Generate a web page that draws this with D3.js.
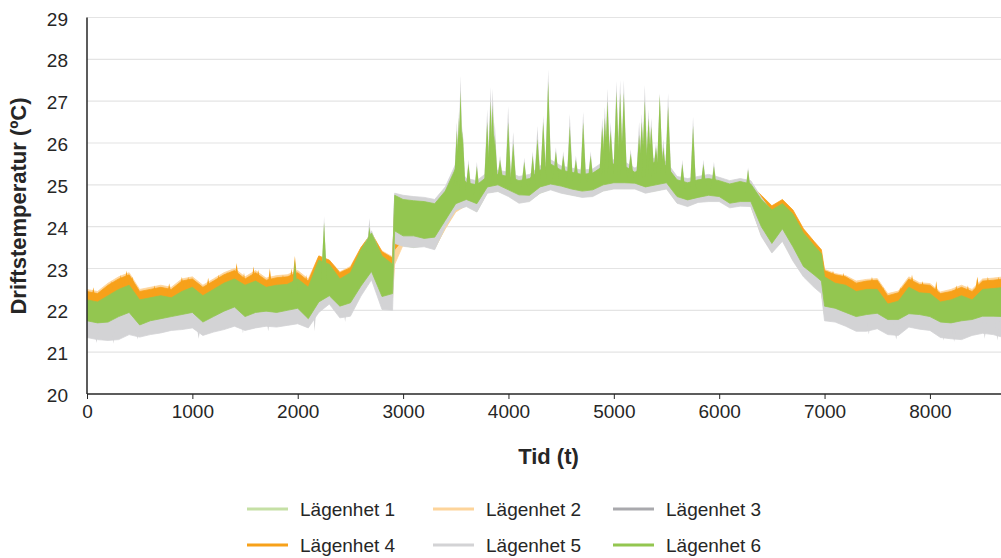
<!DOCTYPE html>
<html>
<head>
<meta charset="utf-8">
<script src="https://cdn.jsdelivr.net/npm/d3@7"></script>
<style>
  body { margin: 0; background: #fff; }
  text { font-family: "Liberation Sans", Arial, sans-serif; fill: #262626; }
</style>
</head>
<body>
<script>
// hourly envelope (low / high) of each series
var hours = [0,100,200,300,400,500,600,700,800,900,
  1000,1100,1200,1300,1400,1500,1600,1700,1800,1900,
  2000,2100,2200,2300,2400,2500,2600,2700,2800,2900,2920,
  3000,3100,3200,3300,3400,3500,3600,3700,3800,3900,
  4000,4100,4200,4300,4400,4500,4600,4700,4800,4900,
  5000,5100,5200,5300,5400,5500,5600,5700,5800,5900,
  6000,6100,6200,6300,6400,6500,6600,6700,6800,6900,6970,
  7000,7100,7200,7300,7400,7500,7600,7700,7800,7900,
  8000,8100,8200,8300,8400,8500,8600,8700,8760];

var seriesNames = ['Lägenhet 1', 'Lägenhet 2', 'Lägenhet 3', 'Lägenhet 4', 'Lägenhet 5', 'Lägenhet 6'];

var hi1 = [22.15,22.1,22.25,22.4,22.5,22.15,22.2,22.25,22.2,22.35,
  22.45,22.25,22.4,22.55,22.65,22.5,22.6,22.45,22.5,22.52,
  22.65,22.45,23.1,23.0,22.65,22.8,23.35,23.75,23.2,23.0,24.6,
  24.55,24.52,24.5,24.45,24.75,25.3,24.95,24.9,25.1,25.15,
  25.1,25.0,25.05,25.25,25.4,25.25,25.2,25.15,25.18,25.35,
  25.4,25.35,25.2,25.35,25.45,25.35,25.02,24.95,25.02,25.05,
  25.0,24.92,24.98,24.92,24.55,24.3,24.45,24.2,23.75,23.45,23.25,
  22.7,22.55,22.5,22.35,22.4,22.4,22.05,22.12,22.45,22.32,
  22.3,22.1,22.15,22.25,22.15,22.4,22.42,22.45,22.4];
var lo1 = [21.8,21.75,21.77,21.9,22.0,21.7,21.8,21.85,21.9,21.95,
  22.0,21.77,21.9,22.03,22.13,21.9,22.0,22.03,22.0,22.05,
  22.1,21.85,22.25,22.4,22.15,22.23,22.63,22.98,22.38,22.45,23.55,
  23.55,23.5,23.55,23.48,23.96,24.38,24.5,24.36,24.82,24.85,
  24.74,24.58,24.62,24.8,24.9,24.82,24.76,24.72,24.74,24.86,
  24.92,24.92,24.92,24.82,24.86,24.92,24.58,24.5,24.6,24.62,
  24.62,24.48,24.52,24.5,23.8,23.4,23.7,23.22,22.85,22.6,22.45,
  21.9,21.85,21.75,21.65,21.7,21.73,21.58,21.58,21.72,21.7,
  21.65,21.52,21.5,21.55,21.58,21.66,21.66,21.65,21.65];

var hi2 = [22.5,22.45,22.65,22.8,22.9,22.5,22.55,22.6,22.55,22.75,
  22.8,22.6,22.75,22.9,23.0,22.8,22.95,22.77,22.83,22.85,
  22.95,22.75,23.3,23.2,22.92,23.05,23.5,23.8,23.42,23.28,24.3,
  24.45,24.45,24.4,24.4,24.65,25.2,24.9,24.85,25.05,25.1,
  25.05,24.95,25.0,25.2,25.35,25.2,25.15,25.1,25.13,25.3,
  25.35,25.3,25.15,25.3,25.4,25.3,24.97,24.9,24.97,25.0,
  24.95,24.9,24.95,24.95,24.6,24.35,24.5,24.25,23.8,23.5,23.3,
  22.98,22.88,22.83,22.7,22.74,22.76,22.4,22.46,22.8,22.66,
  22.64,22.44,22.5,22.6,22.5,22.75,22.77,22.8,22.75];
var lo2 = [21.85,21.8,21.82,21.95,22.05,21.75,21.85,21.9,21.95,22.0,
  22.05,21.82,21.95,22.08,22.18,21.95,22.05,22.08,22.05,22.1,
  22.15,21.9,22.3,22.45,22.2,22.28,22.5,22.85,22.3,22.3,23.1,
  23.56,23.53,23.55,23.48,23.95,24.35,24.51,24.38,24.83,24.87,
  24.75,24.59,24.63,24.83,24.91,24.83,24.78,24.73,24.75,24.88,
  24.93,24.93,24.93,24.83,24.88,24.93,24.59,24.51,24.61,24.63,
  24.63,24.48,24.52,24.51,23.8,23.4,23.68,23.21,22.83,22.58,22.43,
  21.95,21.9,21.8,21.7,21.75,21.78,21.63,21.63,21.77,21.75,
  21.7,21.57,21.55,21.6,21.63,21.71,21.71,21.7,21.7];

var hi3 = [22.2,22.15,22.3,22.45,22.55,22.2,22.25,22.3,22.25,22.4,
  22.5,22.3,22.45,22.6,22.7,22.55,22.65,22.5,22.55,22.57,
  22.7,22.5,23.15,23.05,22.7,22.85,23.4,23.8,23.25,23.05,24.7,
  24.6,24.57,24.55,24.5,24.8,25.35,25.0,24.95,25.15,25.2,
  25.15,25.05,25.1,25.3,25.45,25.3,25.25,25.2,25.23,25.4,
  25.45,25.4,25.25,25.4,25.5,25.4,25.07,25.0,25.07,25.1,
  25.05,24.97,25.03,24.97,24.6,24.35,24.5,24.25,23.8,23.5,23.3,
  22.75,22.6,22.55,22.4,22.45,22.45,22.1,22.17,22.5,22.37,
  22.35,22.15,22.2,22.3,22.2,22.45,22.47,22.5,22.45];
var lo3 = [21.85,21.8,21.82,21.95,22.05,21.75,21.85,21.9,21.95,22.0,
  22.05,21.82,21.95,22.08,22.18,21.95,22.05,22.08,22.05,22.1,
  22.15,21.9,22.3,22.45,22.2,22.28,22.68,23.03,22.43,22.5,24.0,
  23.88,23.88,23.82,23.85,24.25,24.65,24.75,24.65,25.05,25.1,
  24.98,24.86,24.85,25.05,25.12,25.07,25.0,24.95,24.98,25.1,
  25.15,25.15,25.14,25.05,25.1,25.15,24.82,24.74,24.8,24.85,
  24.82,24.66,24.7,24.7,24.1,23.7,24.05,23.62,23.15,22.95,22.8,
  22.2,22.15,22.05,21.95,22.0,22.03,21.88,21.88,22.02,22.0,
  21.95,21.82,21.8,21.85,21.88,21.96,21.96,21.95,21.95];

var hi4 = [22.45,22.4,22.6,22.75,22.85,22.45,22.5,22.55,22.5,22.7,
  22.75,22.55,22.7,22.85,22.95,22.75,22.9,22.72,22.78,22.8,
  22.9,22.7,23.3,23.2,22.9,23.02,23.5,23.85,23.4,23.25,24.4,
  24.5,24.5,24.45,24.45,24.7,25.25,24.95,24.9,25.1,25.15,
  25.1,25.0,25.05,25.25,25.4,25.25,25.2,25.15,25.18,25.35,
  25.4,25.35,25.2,25.35,25.45,25.35,25.02,24.95,25.02,25.05,
  25.0,24.95,25.0,25.0,24.75,24.5,24.65,24.4,23.95,23.65,23.45,
  22.95,22.85,22.8,22.65,22.7,22.72,22.35,22.42,22.75,22.62,
  22.6,22.4,22.45,22.55,22.45,22.7,22.72,22.75,22.7];
var lo4 = [21.9,21.85,21.87,22.0,22.1,21.8,21.9,21.95,22.0,22.05,
  22.1,21.87,22.0,22.13,22.23,22.0,22.1,22.13,22.1,22.15,
  22.2,21.95,22.35,22.5,22.25,22.33,22.73,23.08,22.48,22.5,23.45,
  23.7,23.7,23.65,23.68,24.08,24.5,24.58,24.48,24.88,24.93,
  24.8,24.7,24.68,24.88,24.95,24.9,24.83,24.78,24.8,24.93,
  24.98,24.98,24.97,24.88,24.93,24.98,24.65,24.57,24.63,24.68,
  24.65,24.5,24.53,24.53,24.1,23.7,24.05,23.62,23.15,22.95,22.8,
  22.25,22.2,22.1,22.0,22.05,22.08,21.93,21.93,22.07,22.05,
  22.0,21.87,21.85,21.9,21.93,22.01,22.01,22.0,22.0];

var hi5 = [22.05,22.0,22.15,22.3,22.4,22.05,22.1,22.15,22.1,22.25,
  22.35,22.15,22.3,22.45,22.55,22.4,22.5,22.35,22.4,22.42,
  22.55,22.35,23.0,22.95,22.6,22.75,23.4,23.9,23.2,22.95,24.8,
  24.75,24.72,24.7,24.65,24.95,25.5,25.15,25.1,25.3,25.35,
  25.3,25.2,25.25,25.45,25.6,25.45,25.4,25.35,25.38,25.55,
  25.6,25.55,25.4,25.55,25.65,25.55,25.2,25.15,25.2,25.25,
  25.18,25.1,25.15,25.1,24.7,24.35,24.5,24.2,23.75,23.45,23.2,
  22.6,22.45,22.4,22.25,22.3,22.3,21.95,22.0,22.35,22.2,
  22.2,22.0,22.05,22.15,22.05,22.3,22.32,22.35,22.3];
var lo5 = [21.35,21.3,21.28,21.3,21.42,21.36,21.42,21.46,21.52,21.54,
  21.58,21.4,21.48,21.54,21.62,21.52,21.58,21.62,21.6,21.64,
  21.68,21.58,21.95,22.15,21.82,21.86,22.34,22.73,22.02,22.0,23.6,
  23.53,23.5,23.52,23.45,24.0,24.4,24.48,24.35,24.8,24.84,
  24.72,24.56,24.6,24.8,24.88,24.8,24.75,24.7,24.72,24.85,
  24.9,24.9,24.9,24.8,24.85,24.9,24.56,24.48,24.58,24.6,
  24.6,24.45,24.49,24.48,23.77,23.37,23.65,23.18,22.8,22.55,22.4,
  21.75,21.72,21.62,21.5,21.5,21.56,21.42,21.4,21.6,21.55,
  21.52,21.35,21.32,21.3,21.4,21.45,21.42,21.35,21.32];

var hi6 = [22.25,22.2,22.35,22.5,22.6,22.25,22.3,22.35,22.3,22.45,
  22.55,22.35,22.5,22.65,22.75,22.6,22.7,22.55,22.6,22.62,
  22.75,22.55,23.2,23.1,22.75,22.9,23.45,23.85,23.3,23.1,24.75,
  24.65,24.62,24.6,24.55,24.85,25.4,25.05,25.0,25.2,25.25,
  25.2,25.1,25.15,25.35,25.5,25.35,25.3,25.25,25.28,25.45,
  25.5,25.45,25.3,25.45,25.55,25.45,25.12,25.05,25.12,25.15,
  25.1,25.02,25.08,25.02,24.65,24.4,24.55,24.3,23.85,23.55,23.35,
  22.8,22.65,22.6,22.45,22.5,22.5,22.15,22.22,22.55,22.42,
  22.4,22.2,22.25,22.35,22.25,22.5,22.52,22.55,22.5];
var lo6 = [21.75,21.7,21.72,21.85,21.95,21.65,21.75,21.8,21.85,21.9,
  21.95,21.72,21.85,21.98,22.08,21.85,21.95,21.98,21.95,22.0,
  22.05,21.8,22.2,22.35,22.1,22.18,22.58,22.93,22.33,22.4,23.9,
  23.78,23.78,23.72,23.75,24.15,24.55,24.65,24.55,24.95,25.0,
  24.88,24.76,24.75,24.95,25.02,24.97,24.9,24.85,24.88,25.0,
  25.05,25.05,25.04,24.95,25.0,25.05,24.72,24.64,24.7,24.75,
  24.72,24.56,24.6,24.6,24.0,23.6,23.95,23.52,23.05,22.85,22.7,
  22.1,22.05,21.95,21.85,21.9,21.93,21.78,21.78,21.92,21.9,
  21.85,21.72,21.7,21.75,21.78,21.86,21.86,21.85,21.85];

// short peaks of Lägenhet 5 and 6
var spikeHours = [1973,2250,2680,3510,3530,3545,3565,3620,3700,3798,3830,3850,3870,3920,3997,4045,
  4150,4230,4275,4330,4377,4450,4520,4582,4640,4709,4780,4890,4915,4940,4970,5025,5060,5095,
  5160,5240,5265,5294,5330,5355,5400,5436,5470,5515,5650,5752,5850,5950,6274];
var spikeTop6 = [23.2,24.1,24.0,26.3,26.6,27.23,26.3,25.5,25.45,26.5,27.0,26.9,26.2,25.6,26.5,26.0,
  25.55,25.7,26.1,26.5,27.47,25.8,25.7,26.4,25.6,26.5,25.7,26.4,26.6,26.99,26.3,27.23,27.2,27.2,
  25.75,26.2,26.5,27.03,26.6,26.4,25.9,27.15,25.9,26.87,25.5,26.4,25.5,25.45,25.36];
var spikeTop5 = [23.0,24.25,24.2,26.5,26.75,27.6,26.4,25.6,25.55,26.8,27.35,27.3,26.5,25.7,26.88,26.27,
  25.65,25.8,26.4,26.65,27.75,25.9,25.8,26.7,25.7,26.75,25.8,26.6,26.87,27.31,26.5,27.49,27.5,27.5,
  25.85,26.5,26.7,27.39,26.8,26.6,26.0,27.2,26.1,27.19,25.6,26.63,25.6,25.55,25.42];
// short peaks of Lägenhet 4 (winter top edge)
var spike4Hours = [60,230,320,375,430,640,780,900,960,1150,1250,1330,1420,1490,1580,1625,1735,1860,
  1940,1973,2080,7080,7180,7260,7450,7560,7720,7830,7930,8060,8250,8360,8450,8550,8650];
var spikeTop4 = [22.55,22.7,22.85,22.95,22.8,22.6,22.65,22.8,22.8,22.78,22.85,22.92,23.13,22.9,23.05,22.97,23.0,22.85,
  23.0,23.3,22.85,22.95,22.9,22.75,22.8,22.55,22.55,22.85,22.7,22.7,22.6,22.6,22.8,22.8,22.8];
// short dips of Lägenhet 5 (bottom edge)
var dip5Hours = [90,250,480,1060,1480,1720,2160,2450,7420,7680,8130,8230,8520,8640];
var dip5Low = [21.22,21.2,21.3,21.32,21.45,21.5,21.5,21.72,21.42,21.3,21.28,21.25,21.32,21.28];

var xTicks = [0,1000,2000,3000,4000,5000,6000,7000,8000];
var yTicks = [20,21,22,23,24,25,26,27,28,29];

var colors = ['#c5e0a5', '#fdd49a', '#a9a9ad', '#f7a11a', '#d3d3d5', '#93c650'];

function pairs(hs, vs) {
  return hs.map(function (h, i) { return [h, vs[i]]; });
}

var series = [
  {lo: lo1, hi: hi1, spikes: [], dips: []},
  {lo: lo2, hi: hi2, spikes: [], dips: []},
  {lo: lo3, hi: hi3, spikes: [], dips: []},
  {lo: lo4, hi: hi4, spikes: pairs(spike4Hours, spikeTop4), dips: []},
  {lo: lo5, hi: hi5, spikes: pairs(spikeHours, spikeTop5), dips: pairs(dip5Hours, dip5Low)},
  {lo: lo6, hi: hi6, spikes: pairs(spikeHours, spikeTop6), dips: []}
];

var svg = d3.select('body').append('svg')
  .attr('width', 1001)
  .attr('height', 558);

var x = d3.scaleLinear().domain([0, 8760]).range([87, 1010]);
var y = d3.scaleLinear().domain([20, 29]).range([394, 17.5]);

function nearest(h) {
  var j = d3.bisectLeft(hours, h);
  if (j >= hours.length) return hours.length - 1;
  if (j > 0 && h - hours[j - 1] < hours[j] - h) return j - 1;
  return j;
}

// grid
svg.append('g')
  .selectAll('line')
  .data(yTicks.slice(1))
  .enter()
  .append('line')
  .attr('x1', 87).attr('x2', 1001)
  .attr('y1', function (d) { return y(d); })
  .attr('y2', function (d) { return y(d); })
  .attr('stroke', '#e4e4e4')
  .attr('stroke-width', 1.2);

svg.append('clipPath').attr('id', 'plotclip')
  .append('rect').attr('x', 87).attr('y', 0).attr('width', 914).attr('height', 394);

var plot = svg.append('g').attr('clip-path', 'url(#plotclip)');

series.forEach(function (s, k) {
  var area = d3.area()
    .x(function (d, i) { return x(hours[i]); })
    .y0(function (d, i) { return y(s.lo[i]); })
    .y1(function (d, i) { return y(s.hi[i]); });

  plot.append('path')
    .datum(hours)
    .attr('d', area)
    .attr('fill', colors[k])
    .attr('stroke', colors[k])
    .attr('stroke-width', 0.8);

  // peaks and dips as narrow wedges rising from the middle of the band
  plot.selectAll(null)
    .data(s.spikes.concat(s.dips))
    .enter()
    .append('path')
    .attr('d', function (d) {
      var j = nearest(d[0]);
      var cx = x(d[0]);
      var base = y((s.lo[j] + s.hi[j]) / 2);
      return 'M' + (cx - 3) + ',' + base + 'L' + cx + ',' + y(d[1]) + 'L' + (cx + 3) + ',' + base + 'Z';
    })
    .attr('fill', colors[k]);
});

// axes lines
svg.append('line').attr('x1', 87).attr('x2', 87).attr('y1', 17.5).attr('y2', 394)
  .attr('stroke', '#262626').attr('stroke-width', 1.5);
svg.append('line').attr('x1', 87).attr('x2', 1001).attr('y1', 394).attr('y2', 394)
  .attr('stroke', '#262626').attr('stroke-width', 1.5);

var xAxis = svg.append('g')
  .attr('transform', 'translate(0,394)')
  .call(d3.axisBottom(x).tickValues(xTicks).tickFormat(d3.format('d')).tickSize(5).tickPadding(6));
xAxis.select('.domain').remove();
xAxis.selectAll('line').attr('stroke', '#262626');
xAxis.selectAll('text').attr('font-size', '19px').attr('font-family', null).attr('fill', '#262626');

var yAxis = svg.append('g')
  .attr('transform', 'translate(87,0)')
  .call(d3.axisLeft(y).tickValues(yTicks).tickSize(0).tickPadding(19));
yAxis.select('.domain').remove();
yAxis.selectAll('text').attr('font-size', '19px').attr('font-family', null).attr('fill', '#262626')
  .attr('dy', '0.4em');

svg.append('text')
  .attr('x', 548.5)
  .attr('y', 464)
  .attr('text-anchor', 'middle')
  .attr('font-size', '22px')
  .attr('font-weight', 'bold')
  .text('Tid (t)');

svg.append('text')
  .attr('transform', 'translate(26,206) rotate(-90)')
  .attr('text-anchor', 'middle')
  .attr('font-size', '22px')
  .attr('font-weight', 'bold')
  .text('Driftstemperatur (ºC)');

// legend
var legendX = [247, 433, 613, 247, 433, 613];
var legendY = [509, 509, 509, 545, 545, 545];
var legend = svg.append('g');
seriesNames.forEach(function (name, k) {
  legend.append('line')
    .attr('x1', legendX[k]).attr('x2', legendX[k] + 41)
    .attr('y1', legendY[k]).attr('y2', legendY[k])
    .attr('stroke', colors[k])
    .attr('stroke-width', 3);
  legend.append('text')
    .attr('x', legendX[k] + 53)
    .attr('y', legendY[k] + 7)
    .attr('font-size', '19px')
    .text(name);
});
</script>
</body>
</html>
